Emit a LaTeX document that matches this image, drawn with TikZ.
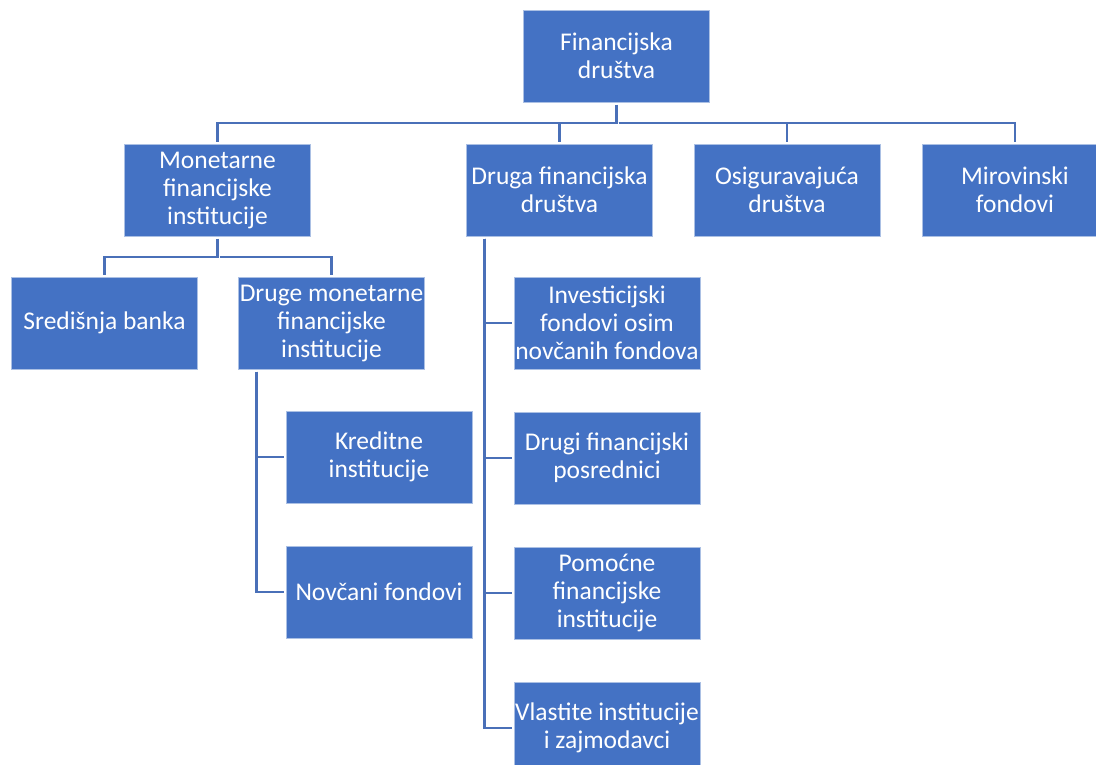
\documentclass[tikz,border=0pt]{standalone}
\usepackage{fontspec}
\setmainfont{Carlito}
\usetikzlibrary{positioning}

\definecolor{boxblue}{HTML}{4472C4}
\definecolor{lineblue}{HTML}{4A70B8}

\tikzset{
  box/.style={rectangle, fill=boxblue, draw=white!55!boxblue, line width=1pt,
    text=white, align=center, inner sep=0pt,
    minimum width=186pt, minimum height=92pt,
    font=\fontsize{25.5}{28}\selectfont},
  link/.style={draw=lineblue, line width=2.5pt, shorten <=2pt, shorten >=2pt}
}

\begin{document}
\begin{tikzpicture}[x=1pt, y=-1pt, node distance=42pt]
  \useasboundingbox (0,0) rectangle (1096,764);

  \node[box] (fin) at (616.5,56) {Financijska\\društva};

  \node[box] (mon) at (217.5,190) {Monetarne\\financijske\\institucije};
  \node[box] (dfd) at (559.5,190) {Druga financijska\\društva};
  \node[box] (osig) at (787,190) {Osiguravajuća\\društva};
  \node[box] (mir) at (1015,190) {Mirovinski\\fondovi};

  \node[box] (sred) at (104.5,323) {Središnja banka};
  \node[box] (dmfi) at (331.5,323) {Druge monetarne\\financijske\\institucije};
  \node[box] (kred) at (379,457) {Kreditne\\institucije};
  \node[box] (novc) [below=of kred] {Novčani fondovi};

  \node[box] (inv) at (607,323) {Investicijski\\fondovi osim\\novčanih fondova};
  \node[box] (dfp) [below=of inv] {Drugi financijski\\posrednici};
  \node[box] (pom) [below=of dfp] {Pomoćne\\financijske\\institucije};
  \node[box] (vlas) [below=of pom] {Vlastite institucije\\i zajmodavci};

  % bus lines
  \coordinate (bustop) at (0,123);
  \coordinate (busmon) at (0,257);

  \draw[link] (fin.south) -- (fin.south |- bustop) -| (mon.north);
  \draw[link] (fin.south |- bustop) -| (dfd.north);
  \draw[link] (fin.south |- bustop) -| (osig.north);
  \draw[link] (fin.south |- bustop) -| (mir.north);

  \draw[link] (mon.south) -- (mon.south |- busmon) -| (sred.north);
  \draw[link] (mon.south |- busmon) -| (dmfi.north);

  \draw[link] ([xshift=-75pt]dmfi.south) |- (kred.west);
  \draw[link] ([xshift=-75pt]dmfi.south) |- (novc.west);

  \draw[link] ([xshift=-75pt]dfd.south) |- (inv.west);
  \draw[link] ([xshift=-75pt]dfd.south) |- (dfp.west);
  \draw[link] ([xshift=-75pt]dfd.south) |- (pom.west);
  \draw[link] ([xshift=-75pt]dfd.south) |- (vlas.west);
\end{tikzpicture}
\end{document}
